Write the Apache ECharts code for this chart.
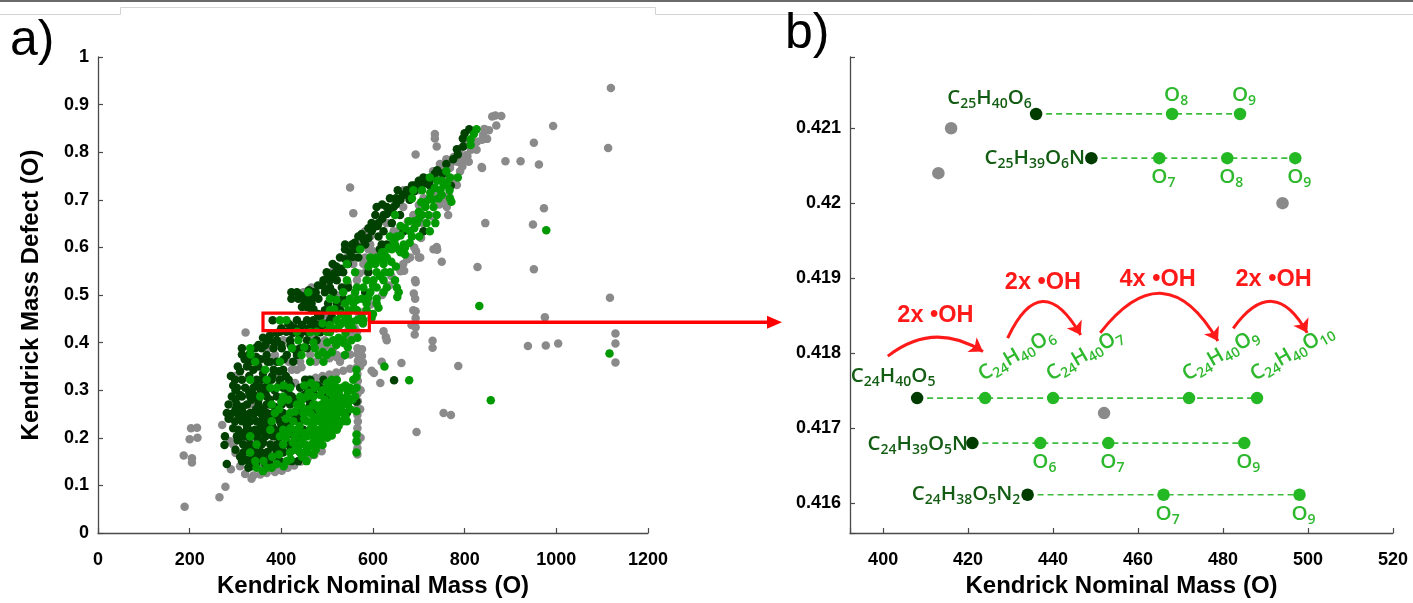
<!DOCTYPE html>
<html><head><meta charset="utf-8">
<script src="https://cdn.jsdelivr.net/npm/echarts@6/dist/echarts.min.js"></script>
<style>html,body{margin:0;padding:0;background:#fff}#c{width:1413px;height:603px}</style>
</head><body><div id="c"></div>
<script>
// ================= Panel a) data : [Kendrick nominal mass, Kendrick mass defect] =================
const grayPts = [
[1119,0.935],[993,0.855],[1113,0.809],[951,0.82],[962,0.774],[922,0.781],[889,0.781],[837,0.769],[693,0.795],[550,0.726],[557,0.672],[973,0.682],[949,0.648],[845,0.651],[828,0.559],[951,0.554],[750,0.57],[739,0.601],[740,0.595],[694,0.592],[700,0.579],[668,0.551],[693,0.527],[689,0.503],[1117,0.494],[975,0.453],[693,0.466],[693,0.451],[693,0.432],[691,0.417],[623,0.424],[628,0.412],[630,0.405],[1129,0.419],[1129,0.398],[1129,0.358],[1004,0.398],[977,0.394],[938,0.393],[730,0.404],[730,0.389],[786,0.351],[662,0.357],[616,0.315],[754,0.252],[770,0.248],[695,0.212],[597,0.341],[602,0.336],[322,0.421],
[187,0.163],[203,0.22],[200,0.197],[216,0.221],[217,0.2],[205,0.157],[205,0.148],[189,0.055],[265,0.075],[278,0.097],[271,0.227],[290,0.134],[295,0.186],[288,0.193],[300,0.168],
[860,0.875],[867,0.877],[880,0.876],[869,0.856],[853,0.846],[843,0.849],[840,0.836],[849,0.828],[838,0.826],[827,0.822],[819,0.813],[826,0.805],[814,0.805],[806,0.792],[735,0.838],[735,0.829],[739,0.812],[790,0.793],[804,0.794],[797,0.779],[772,0.779],[784,0.78],[809,0.78],[755,0.767],[768,0.767],[838,0.767],[740,0.747],[754,0.746],[783,0.731],[760,0.785],[776,0.79],[746,0.775],[731,0.76],[720,0.736],[700,0.72],[680,0.7],[700,0.689],[740,0.71],[791,0.808],[800,0.822],
[667,0.72],[710,0.703],[666,0.685],[761,0.685],[688,0.668],[764,0.668],[630,0.651],[676,0.655],[660,0.64],[583,0.634],[645,0.634],[650,0.62],[594,0.623],[565,0.606],[594,0.606],[620,0.6],[590,0.596],[601,0.592],[610,0.585],[732,0.596],[543,0.579],[583,0.579],[681,0.579],[703,0.579],[557,0.565],[579,0.565],[600,0.57],[666,0.565],[510,0.548],[585,0.55],[570,0.545],[499,0.531],[545,0.525],[565,0.531],[692,0.531],[466,0.516],[520,0.5],[560,0.5],[448,0.506],[692,0.492],[452,0.482],[530,0.48],[500,0.46],[688,0.468],
[470,0.415],[510,0.43],[530,0.44],[480,0.395],[495,0.39],[540,0.405],[550,0.415],[560,0.43],[570,0.455],[580,0.465],[595,0.48],[620,0.5],[635,0.52],[640,0.54],[660,0.55],[675,0.575],[690,0.6],[705,0.62],[710,0.65],[730,0.665],[745,0.69],[755,0.7],[765,0.71],[780,0.745],[790,0.76],[795,0.77],
[488,0.447],[684,0.437],[565,0.423],[543,0.422],[404,0.405],[495,0.405],[372,0.388],[513,0.388],[566,0.388],[576,0.386],[386,0.374],[463,0.374],[521,0.374],[576,0.372],[416,0.36],[441,0.36],[528,0.36],[578,0.358],[619,0.36],
[460,0.322],[475,0.326],[490,0.33],[505,0.333],[520,0.337],[535,0.341],[550,0.345],[565,0.348],
[475,0.36],[490,0.364],[505,0.367],[520,0.37],[535,0.372],[550,0.375],
[566,0.165],[566,0.178],[567,0.192],[566,0.206],[566,0.22],[567,0.234],[566,0.248],[566,0.262],[567,0.277],[566,0.292],[566,0.306],[567,0.32],[566,0.334],[567,0.362],[566,0.376],
[573,0.2],[572,0.26],[573,0.3],[572,0.35],[573,0.384],
[321,0.124],[339,0.121],[354,0.123],[368,0.126],[386,0.128],[401,0.131],[414,0.137],[335,0.114],[357,0.136],[376,0.137],[397,0.138],[428,0.142],[443,0.15],[458,0.158],[472,0.164],[488,0.172],[310,0.14],
[332,0.27],[310,0.26],[305,0.2],[423,0.343],[434,0.343],[444,0.348],[300,0.33],[395,0.33],[430,0.315],[350,0.31],[320,0.19],[340,0.2]
];
const darkPts = [
[810,0.848],[796,0.829],[797,0.812],[783,0.806],[752,0.755],[740,0.762],[710,0.747],[730,0.745],[700,0.74],[715,0.735],[685,0.73],[696,0.73],[724,0.73],[770,0.73],[654,0.72],[674,0.72],[690,0.718],[665,0.71],[637,0.703],[650,0.703],[680,0.7],[620,0.69],[608,0.685],[630,0.685],[645,0.685],[640,0.675],[605,0.668],[623,0.668],[659,0.668],[597,0.651],[612,0.651],[641,0.651],[590,0.64],[597,0.634],[623,0.634],[667,0.634],[710,0.634],[575,0.628],[568,0.623],[612,0.623],[560,0.61],[539,0.606],[554,0.606],[583,0.606],[619,0.606],[630,0.606],[539,0.596],[561,0.596],[615,0.596],[550,0.59],[528,0.579],[568,0.579],[512,0.565],[545,0.565],[520,0.56],[499,0.548],[524,0.548],[535,0.548],[590,0.548],[510,0.54],[492,0.531],[506,0.531],[521,0.531],[480,0.52],[506,0.516],[532,0.516],[546,0.516],[422,0.506],[434,0.506],[470,0.506],[495,0.506],[513,0.506],[583,0.506],[455,0.5],[422,0.492],[437,0.492],[466,0.492],[481,0.492],[535,0.492],[450,0.488],[466,0.482],[502,0.482],[521,0.482],[445,0.475],[466,0.468],[495,0.468],[528,0.468],[480,0.46],[510,0.455],
[390,0.42],[400,0.43],[415,0.44],[430,0.43],[440,0.415],[460,0.43],[475,0.425],[490,0.435],[500,0.44],[360,0.41],[375,0.415],[350,0.395],[365,0.395],[385,0.4],[400,0.395],[420,0.395],[430,0.385],[330,0.375],[345,0.37],[355,0.365],[370,0.36],[390,0.36],[405,0.365],[455,0.475],[470,0.47],[485,0.455],[440,0.5],[460,0.51],[475,0.505],[490,0.52],[500,0.535],[515,0.545],[530,0.555],[540,0.575],[555,0.58],[570,0.6],[580,0.615],[590,0.62],[600,0.64],[610,0.645],[620,0.66],[630,0.67],[650,0.69],[660,0.7],[675,0.71],[690,0.73],[705,0.73],[720,0.745],[735,0.755],[760,0.775],[775,0.785],[785,0.795],[800,0.84],
[381,0.447],[434,0.447],[456,0.447],[470,0.447],[506,0.447],[419,0.437],[445,0.437],[466,0.437],[481,0.437],[397,0.423],[411,0.423],[456,0.423],[425,0.42],[444,0.422],[485,0.422],[372,0.405],[390,0.405],[419,0.405],[456,0.405],[477,0.405],[314,0.388],[343,0.388],[357,0.388],[383,0.388],[401,0.388],[441,0.388],[456,0.388],[314,0.375],[368,0.374],[412,0.374],[434,0.374],[332,0.36],[376,0.36],[426,0.36],[339,0.343],[383,0.343],[404,0.343],[310,0.34],[325,0.35],[350,0.35],[360,0.335],[330,0.33],[380,0.33],[395,0.34],[410,0.33],
[290,0.33],[305,0.35],[320,0.365],[335,0.37],[300,0.3],[310,0.29],[325,0.27],[335,0.28],[340,0.29],[355,0.3],[365,0.295],[375,0.28],[385,0.3],[395,0.31],[290,0.25],[295,0.22],[315,0.21],[335,0.215],[350,0.21],[360,0.19],[370,0.17],[385,0.16],[300,0.175],[310,0.16],[320,0.155],[335,0.14],[350,0.155],[365,0.145],[380,0.14],[340,0.25],[325,0.24],[375,0.25],[390,0.245],[380,0.225],[395,0.215],[360,0.26],[375,0.27],
[299,0.322],[314,0.322],[346,0.322],[357,0.322],[379,0.322],[397,0.322],[416,0.322],[452,0.322],[463,0.322],[492,0.322],
[303,0.305],[321,0.305],[339,0.305],[357,0.305],[404,0.305],[441,0.305],[456,0.305],[485,0.305],[295,0.31],[345,0.31],[370,0.31],[420,0.31],[480,0.31],
[292,0.287],[314,0.287],[332,0.287],[368,0.287],[390,0.287],[423,0.287],[499,0.287],[300,0.28],[350,0.28],[430,0.28],[450,0.29],[460,0.28],[470,0.295],[415,0.295],[330,0.295],
[285,0.27],[303,0.27],[350,0.27],[368,0.27],[401,0.27],[419,0.27],[441,0.27],[463,0.27],[564,0.276],[316,0.265],[385,0.265],[455,0.26],[300,0.26],[345,0.26],
[281,0.252],[303,0.252],[317,0.252],[332,0.252],[354,0.252],[368,0.252],[404,0.252],[434,0.252],[470,0.252],[543,0.252],[285,0.24],[310,0.24],[360,0.24],[430,0.24],[445,0.24],
[299,0.235],[314,0.235],[332,0.235],[346,0.235],[368,0.235],[397,0.235],[416,0.235],[441,0.235],[400,0.228],[325,0.225],[355,0.225],
[306,0.217],[325,0.217],[343,0.217],[361,0.217],[386,0.217],[423,0.217],[448,0.217],[370,0.22],[410,0.222],
[277,0.203],[303,0.203],[317,0.203],[346,0.203],[365,0.203],[383,0.203],[412,0.203],[441,0.203],[330,0.2],[380,0.205],[395,0.2],[430,0.2],[305,0.195],[350,0.195],
[276,0.185],[317,0.186],[332,0.186],[357,0.186],[376,0.186],[390,0.186],[419,0.186],[405,0.185],[340,0.18],[380,0.18],[325,0.175],[395,0.175],[420,0.175],
[317,0.169],[346,0.169],[368,0.169],[390,0.169],[404,0.169],[355,0.17],[440,0.17],[335,0.16],[360,0.155],[375,0.155],
[281,0.145],[314,0.151],[328,0.151],[397,0.151],[423,0.151],[437,0.151],[345,0.145],[328,0.137],
[646,0.321]
];
const greenPts = [
[826,0.848],[813,0.827],[820,0.838],[813,0.815],[724,0.747],[768,0.747],[785,0.747],[754,0.73],[762,0.735],[760,0.76],[740,0.74],[771,0.696],[688,0.72],[707,0.72],[747,0.72],[767,0.72],[685,0.703],[724,0.703],[743,0.703],[768,0.703],[730,0.7],[750,0.71],[705,0.695],[714,0.685],[732,0.685],[648,0.668],[707,0.668],[721,0.668],[739,0.668],[700,0.66],[678,0.655],[696,0.651],[717,0.651],[736,0.651],[660,0.645],[690,0.64],[681,0.634],[724,0.634],[637,0.623],[652,0.623],[685,0.623],[701,0.623],[680,0.61],[648,0.606],[667,0.606],[670,0.6],[572,0.596],[641,0.596],[656,0.596],[660,0.59],[620,0.59],[670,0.585],[594,0.579],[608,0.579],[630,0.579],[640,0.57],[543,0.565],[594,0.565],[623,0.565],[650,0.56],[561,0.548],[608,0.548],[626,0.548],[637,0.548],[543,0.531],[586,0.531],[601,0.531],[623,0.531],[648,0.531],[565,0.516],[579,0.516],[608,0.516],[630,0.516],[652,0.516],[459,0.506],[535,0.506],[561,0.506],[594,0.506],[623,0.506],[656,0.506],[506,0.492],[550,0.492],[576,0.492],[608,0.492],[653,0.496],[539,0.482],[557,0.482],[586,0.482],[608,0.482],[506,0.468],[546,0.468],[565,0.468],[586,0.468],[612,0.473],[600,0.46],[575,0.455],[597,0.452],
[560,0.47],[545,0.455],[530,0.46],[515,0.47],[520,0.49],[565,0.49],[590,0.495],[600,0.52],[615,0.54],[590,0.56],[605,0.565],[615,0.575],[625,0.59],[635,0.6],[645,0.615],[660,0.625],[670,0.64],[690,0.655],[700,0.675],[715,0.695],[725,0.715],[735,0.725],[750,0.74],[490,0.44],[520,0.43],[540,0.42],[555,0.43],[525,0.41],[500,0.4],[545,0.39],[520,0.395],[490,0.38],[510,0.38],[470,0.4],[450,0.39],
[397,0.447],[411,0.447],[521,0.447],[539,0.447],[553,0.444],[565,0.447],[579,0.447],[506,0.437],[528,0.437],[546,0.437],[578,0.44],[434,0.423],[477,0.423],[499,0.423],[463,0.422],[506,0.422],[437,0.405],[513,0.405],[535,0.405],[553,0.405],[566,0.41],[536,0.399],[332,0.388],[423,0.388],[473,0.388],[333,0.375],[444,0.374],[481,0.374],[499,0.374],[539,0.374],[343,0.36],[397,0.36],[463,0.36],[492,0.36],[365,0.343],[564,0.343],
[332,0.322],[368,0.322],[510,0.322],[521,0.322],[557,0.322],[564,0.328],[450,0.31],[465,0.315],[515,0.31],[405,0.31],
[445,0.28],[460,0.295],[475,0.31],[485,0.29],[500,0.315],[510,0.3],[525,0.295],[540,0.31],[530,0.26],[545,0.27],[555,0.3],[470,0.245],[480,0.24],[495,0.245],[510,0.25],[515,0.23],[535,0.235],[500,0.225],[480,0.215],[465,0.22],[450,0.21],[470,0.19],[485,0.195],[500,0.2],[455,0.175],[440,0.185],[425,0.19],[415,0.21],[435,0.21],[445,0.265],[460,0.26],[470,0.27],[490,0.265],[520,0.28],[510,0.275],
[376,0.305],[390,0.305],[419,0.305],[473,0.305],[502,0.305],[521,0.305],[532,0.305],[550,0.305],[564,0.305],[490,0.3],[545,0.298],
[354,0.287],[404,0.287],[441,0.287],[456,0.287],[470,0.287],[513,0.287],[528,0.287],[543,0.287],[561,0.287],[505,0.295],[495,0.28],[535,0.278],[555,0.28],[415,0.28],[400,0.275],
[379,0.27],[434,0.27],[473,0.27],[488,0.27],[506,0.27],[528,0.27],[543,0.27],[480,0.262],[500,0.26],[515,0.265],[550,0.26],[395,0.26],[564,0.256],
[386,0.252],[419,0.252],[448,0.252],[463,0.252],[485,0.252],[499,0.252],[521,0.252],[535,0.252],[430,0.255],[520,0.245],[540,0.245],[505,0.24],[450,0.24],[410,0.24],
[379,0.235],[426,0.235],[456,0.235],[473,0.235],[485,0.235],[499,0.235],[513,0.235],[528,0.235],[543,0.235],[470,0.23],[490,0.225],[525,0.225],[440,0.225],[420,0.22],
[376,0.217],[404,0.217],[434,0.217],[463,0.217],[477,0.217],[492,0.217],[506,0.217],[521,0.217],[460,0.21],[490,0.21],[510,0.205],[410,0.2],[475,0.2],[564,0.207],
[332,0.203],[397,0.203],[430,0.203],[456,0.203],[470,0.203],[485,0.203],[499,0.203],[445,0.195],[564,0.193],
[346,0.186],[404,0.186],[437,0.186],[452,0.186],[466,0.186],[481,0.186],[490,0.185],[460,0.18],[475,0.175],[430,0.175],
[332,0.169],[419,0.169],[441,0.169],[456,0.169],[564,0.169],[470,0.165],[395,0.165],[380,0.16],[445,0.16],
[343,0.151],[361,0.151],[412,0.151],[455,0.151],[420,0.155],[390,0.145],[405,0.14],[360,0.13],
[346,0.137],[368,0.137],[379,0.137],
[978,0.636],[832,0.477],[1116,0.377],[857,0.279],[679,0.321],[625,0.35]
];
const zoomBox = [[360, 0.462], [592, 0.425]];
const zoomArrowY = 0.443;

// ================= Panel b) data =================
const famY = [0.42119, 0.4206, 0.4174, 0.4168, 0.41611];
const famParentX = [436, 449, 408, 421, 434];
const famParentName = ['C25H40O6', 'C25H39O6N', 'C24H40O5', 'C24H39O5N', 'C24H38O5N2'];
const famMemberX = [[468, 484], [465, 481, 497], [424, 440, 472, 488], [437, 453, 485], [466, 498]];
const famMemberName = [['O8', 'O9'], ['O7', 'O8', 'O9'], ['C24H40O6', 'C24H40O7', 'C24H40O9', 'C24H40O10'], ['O6', 'O7', 'O9'], ['O7', 'O9']];
const otherPts = [[416, 0.421], [413, 0.4204], [494, 0.42], [452, 0.4172]];
const ohFrom = [[401.1, 0.41796], [429.3, 0.4182], [451.1, 0.41827], [482.4, 0.41833]];
const ohTo = [[423.5, 0.41802], [446.5, 0.41824], [478.8, 0.41816], [499.8, 0.41827]];
const ohBend = [0.35, 0.96, 0.74, 0.79];
const ohText = ['2x •OH', '2x •OH', '4x •OH', '2x •OH'];
const ohTextPos = [[412.3, 0.4185], [437.6, 0.41894], [464.6, 0.41898], [491.9, 0.41898]];

// ================= styling =================
const TICK_FONT = 'Liberation Sans, Arial, sans-serif';
const FORM_FONT = 'Open Sans, Noto Sans, sans-serif';
const C_GRAY = '#8a8a8a', C_DARK = '#004000', C_GREEN = '#009a00';
const C_PDARK = '#003c00', C_PLIGHT = '#25b825', C_TDARK = '#135c13', C_TLIGHT = '#2db82d', C_RED = '#ff1a1a';

function toRich(s) {
  return s.replace(/([A-Z][a-z]?)|(\d+)/g, (m, a, d) => a ? '{n|' + a + '}' : '{s|' + d + '}');
}
function richSet(color, useFill) {
  const k = useFill ? 'fill' : 'color';
  return {
    n: { [k]: color, fontSize: 20.5, fontFamily: FORM_FONT, fontWeight: 600, lineHeight: 26 },
    s: { [k]: color, fontSize: 14, fontFamily: FORM_FONT, fontWeight: 600, lineHeight: 13, verticalAlign: 'bottom' }
  };
}

const axisCommon = {
  axisLine: { show: true, lineStyle: { color: '#4a4a4a', width: 1.3 } },
  axisTick: { show: true, inside: true, length: 5, lineStyle: { color: '#4a4a4a', width: 1.2 } },
  splitLine: { show: false },
  nameTextStyle: { fontSize: 24, fontWeight: 'bold', color: '#000', fontFamily: TICK_FONT }
};
const lblX = { fontSize: 18, fontWeight: 'bold', color: '#000', fontFamily: TICK_FONT, margin: 18 };
const lblY = { fontSize: 18, fontWeight: 'bold', color: '#000', fontFamily: TICK_FONT, margin: 9 };

const parentLabelCfg = [
  { position: 'left', distance: 0, offset: [2, -16] },
  { position: 'left', distance: 0, offset: [0, 0] },
  { position: 'top', distance: 0, offset: [-24, -3] },
  { position: 'left', distance: 0, offset: [2, 1] },
  { position: 'left', distance: 0, offset: [-1, -1] }
];
const memberSide = ['top', 'bottom', 'rot', 'bottom', 'bottom'];

const parentData = famParentX.map((x, i) => ({
  value: [x, famY[i]],
  label: Object.assign({ show: true, formatter: toRich(famParentName[i]) }, parentLabelCfg[i])
}));
const memberData = [];
famMemberX.forEach((xs, i) => xs.forEach((x, j) => {
  const side = memberSide[i];
  memberData.push({
    value: [x, famY[i]],
    label: side === 'rot' ? { show: false } :
      { show: true, position: side, distance: 0, offset: [4, 0], formatter: toRich(famMemberName[i][j]) }
  });
}));
const rowLines = famParentX.map((x, i) => ({
  type: 'line', xAxisIndex: 1, yAxisIndex: 1, silent: true, z: 1,
  symbol: 'none', animation: false,
  lineStyle: { type: [6, 4], color: '#3dbd3d', width: 1.7 },
  data: [[x, famY[i]], [Math.max.apply(null, famMemberX[i]), famY[i]]]
}));

const chart = echarts.init(document.getElementById('c'), null, { renderer: 'canvas' });
const option = {
  animation: false,
  backgroundColor: '#fff',
  grid: [
    { left: 98, right: 765, top: 57, bottom: 63 },
    { left: 850, right: 20, top: 57, bottom: 63 }
  ],
  xAxis: [
    Object.assign({}, axisCommon, {
      gridIndex: 0, type: 'value', min: 0, max: 1200, interval: 200,
      name: 'Kendrick Nominal Mass (O)', nameLocation: 'middle', nameGap: 41,
      axisLabel: Object.assign({}, lblX, { formatter: v => String(v) })
    }),
    Object.assign({}, axisCommon, {
      gridIndex: 1, type: 'value', min: 392.2, max: 520, splitNumber: 6,
      name: 'Kendrick Nominal Mass (O)', nameLocation: 'middle', nameGap: 41,
      axisLabel: Object.assign({}, lblX, { formatter: v => (Math.abs(v / 20 - Math.round(v / 20)) < 1e-6 ? String(Math.round(v)) : '') })
    })
  ],
  yAxis: [
    Object.assign({}, axisCommon, {
      gridIndex: 0, type: 'value', min: 0, max: 1, interval: 0.1,
      name: 'Kendrick Mass Defect (O)', nameLocation: 'middle', nameGap: 55, axisLabel: lblY
    }),
    Object.assign({}, axisCommon, {
      gridIndex: 1, type: 'value', min: 0.4156, max: 0.42195, splitNumber: 6,
      axisLabel: Object.assign({}, lblY, {
        formatter: v => { const k = v * 1000; return Math.abs(k - Math.round(k)) < 1e-6 ? String(+(Math.round(k) / 1000).toFixed(3)) : ''; }
      })
    })
  ],
  series: [
    { type: 'scatter', xAxisIndex: 0, yAxisIndex: 0, data: grayPts, symbolSize: 8.5, itemStyle: { color: C_GRAY, opacity: 1 }, silent: true, z: 2 },
    { type: 'scatter', xAxisIndex: 0, yAxisIndex: 0, data: darkPts, symbolSize: 8.5, itemStyle: { color: C_DARK, opacity: 1 }, silent: true, z: 3 },
    { type: 'scatter', xAxisIndex: 0, yAxisIndex: 0, data: greenPts, symbolSize: 8.5, itemStyle: { color: C_GREEN, opacity: 1 }, silent: true, z: 4,
      markArea: { silent: true, z: 10, itemStyle: { color: 'rgba(0,0,0,0)', borderColor: '#ff0000', borderWidth: 3.2 },
        data: [[{ coord: zoomBox[0] }, { coord: zoomBox[1] }]] } },
    ...rowLines,
    { type: 'scatter', xAxisIndex: 1, yAxisIndex: 1, data: otherPts, symbolSize: 12.5, itemStyle: { color: C_GRAY, opacity: 1 }, silent: true, z: 3 },
    { type: 'scatter', xAxisIndex: 1, yAxisIndex: 1, data: memberData, symbolSize: 12.5, itemStyle: { color: C_PLIGHT, opacity: 1 }, silent: true, z: 4,
      label: { rich: richSet(C_TLIGHT, false) } },
    { type: 'scatter', xAxisIndex: 1, yAxisIndex: 1, data: parentData, symbolSize: 12.5, itemStyle: { color: C_PDARK, opacity: 1 }, silent: true, z: 5,
      label: { rich: richSet(C_TDARK, false) } },
    { type: 'lines', coordinateSystem: 'cartesian2d', xAxisIndex: 1, yAxisIndex: 1, silent: true, z: 6,
      symbol: ['none', 'arrow'], symbolSize: 13,
      lineStyle: { color: C_RED, width: 3, opacity: 1 },
      data: ohFrom.map((f, i) => ({ coords: [f, ohTo[i]], lineStyle: { curveness: ohBend[i] } })) }
  ]
};
chart.setOption(option);

// ----- annotations placed through the axes' own scales -----
const g = [];
g.push({ type: 'line', shape: { x1: 0, y1: 1, x2: 1413, y2: 1 }, style: { stroke: '#6a6a6a', lineWidth: 2 }, silent: true });
g.push({ type: 'polyline', shape: { points: [[0, 14.5], [120.5, 14.5], [120.5, 7.5], [655.5, 7.5], [655.5, 14.5], [1413, 14.5]] }, style: { stroke: '#d4d4d4', lineWidth: 1, fill: null }, silent: true });
g.push({ type: 'text', left: 10, top: 16, style: { text: 'a)', fontSize: 50, fontFamily: TICK_FONT, fill: '#000' }, silent: true });
g.push({ type: 'text', left: 785, top: 9, style: { text: 'b)', fontSize: 50, fontFamily: TICK_FONT, fill: '#000' }, silent: true });
const pA = chart.convertToPixel({ gridIndex: 0 }, [zoomBox[1][0], zoomArrowY]);
const tipX = 782;
g.push({ type: 'line', shape: { x1: pA[0], y1: pA[1], x2: tipX - 12, y2: pA[1] }, style: { stroke: '#ff0000', lineWidth: 3.5 }, silent: true, z: 20 });
g.push({ type: 'polygon', shape: { points: [[tipX, pA[1]], [tipX - 15, pA[1] - 6.5], [tipX - 15, pA[1] + 6.5]] }, style: { fill: '#ff0000' }, silent: true, z: 20 });
ohText.forEach((t, i) => {
  const p = chart.convertToPixel({ gridIndex: 1 }, ohTextPos[i]);
  g.push({ type: 'text', x: p[0], y: p[1], silent: true, z: 20,
    style: { text: t, fontSize: 23.5, fontWeight: 'bold', fontFamily: TICK_FONT, fill: C_RED, align: 'center', verticalAlign: 'middle' } });
});
famMemberX[2].forEach((x, j) => {
  const p = chart.convertToPixel({ gridIndex: 1 }, [x, famY[2]]);
  g.push({ type: 'text', x: p[0] - 5, y: p[1] - 22, rotation: Math.PI / 6, silent: true, z: 20,
    style: { text: toRich(famMemberName[2][j]), rich: richSet(C_TLIGHT, true), align: 'left', verticalAlign: 'middle' } });
});
chart.setOption({ graphic: g });
</script>
</body></html>
